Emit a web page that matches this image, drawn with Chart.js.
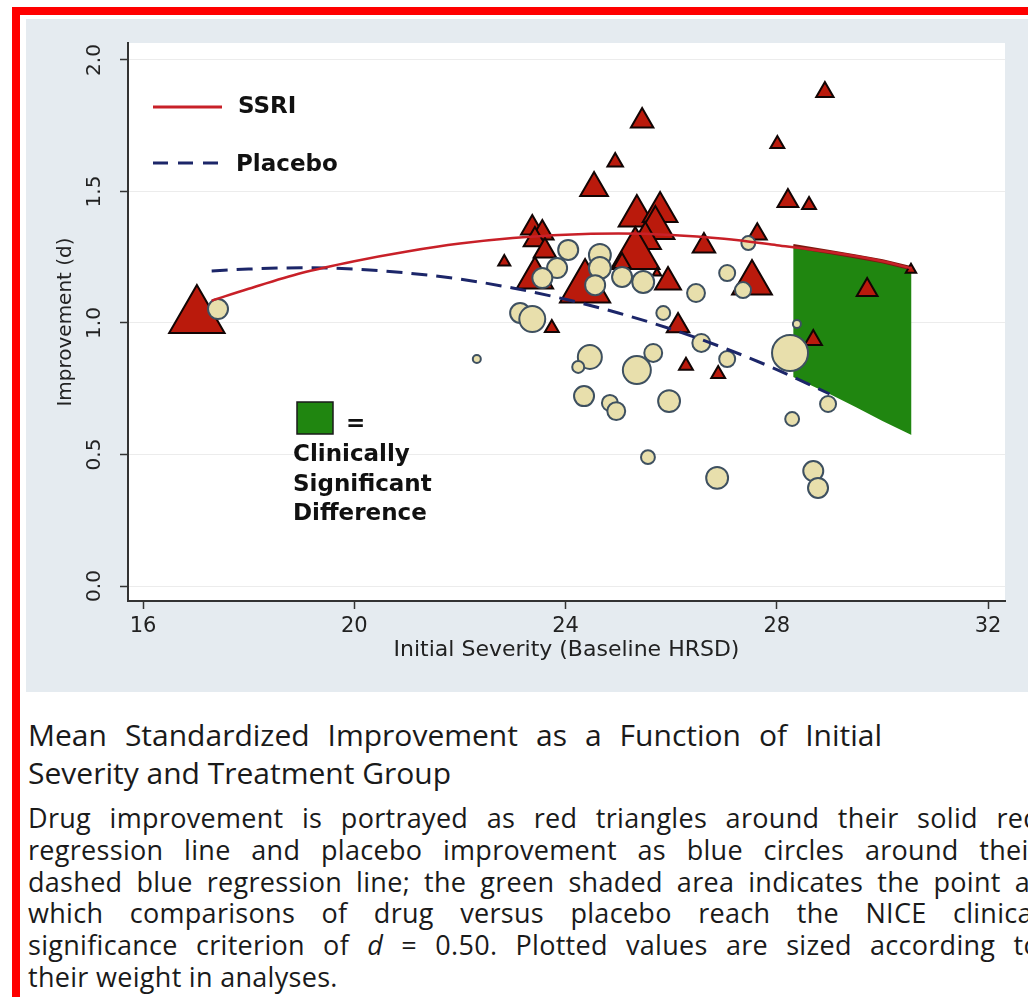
<!DOCTYPE html>
<html>
<head>
<meta charset="utf-8">
<title>Mean Standardized Improvement as a Function of Initial Severity</title>
<script src="https://cdn.jsdelivr.net/npm/chart.js@4.4.1/dist/chart.umd.min.js"></script>
<style>
  html, body { margin: 0; padding: 0; background: #fff; }
  body { width: 1028px; height: 997px; overflow: hidden; position: relative; }
  #frame { position: absolute; left: 12px; top: 7px; width: 1100px; height: 1100px;
           border-left: 8px solid #ff0000; border-top: 8px solid #ff0000; }
  #panel { position: absolute; left: 26px; top: 19px; width: 1002px; height: 673px; background: #e5ebf0; }
  #panel canvas { position: absolute; left: 0; top: 0; }
  .cap { position: absolute; left: 28px; font-family: "Open Sans", sans-serif; color: #1a1a1a; }
  .title { top: 716px; font-size: 30px; line-height: 38px; }
  .body { top: 802px; font-size: 27px; line-height: 31.8px; letter-spacing: 0.3px; }
  .j { text-align: justify; text-align-last: justify; }
</style>
</head>
<body>
<div id="frame"></div>
<div id="panel"><canvas id="chart" width="1002" height="673"></canvas></div>

<div class="cap title">
  <div class="j" style="width:854px">Mean Standardized Improvement as a Function of Initial</div>
  <div>Severity and Treatment Group</div>
</div>
<div class="cap body">
  <div class="j" style="width:1012px">Drug improvement is portrayed as red triangles around their solid red</div>
  <div class="j" style="width:1012px">regression line and placebo improvement as blue circles around their</div>
  <div class="j" style="width:1012px">dashed blue regression line; the green shaded area indicates the point at</div>
  <div class="j" style="width:1012px">which comparisons of drug versus placebo reach the NICE clinical</div>
  <div class="j" style="width:1012px">significance criterion of <i>d</i> = 0.50. Plotted values are sized according to</div>
  <div>their weight in analyses.</div>
</div>

<script>
// axis ticks
const xTicks = [16, 20, 24, 28, 32];
const yTicks = [0, 0.5, 1, 1.5, 2];

// SSRI (drug) arms: baseline HRSD, improvement d, weight in analysis
const drugX = [17.02, 22.84, 23.37, 23.56, 23.42, 23.61, 23.42, 24.37, 24.54, 24.94, 25.45,
  25.35, 25.79, 25.70, 25.51, 25.32, 25.07, 25.94, 25.73, 26.62, 27.63, 27.53, 28.01,
  28.91, 28.21, 28.61, 29.71, 30.54, 26.13, 23.74, 26.28, 26.89, 28.69];
const drugY = [1.023, 1.232, 1.361, 1.342, 1.316, 1.274, 1.171, 1.133, 1.513, 1.612, 1.768,
  1.407, 1.422, 1.361, 1.316, 1.259, 1.228, 1.156, 1.190, 1.293, 1.338, 1.152, 1.681,
  1.878, 1.464, 1.449, 1.125, 1.202, 0.989, 0.981, 0.837, 0.806, 0.935];
const drugW = [256, 12, 42, 42, 42, 42, 110, 210, 64, 20, 42,
  110, 100, 121, 81, 196, 25, 56, 6, 42, 30, 132, 16,
  25, 36, 16, 36, 9, 42, 16, 16, 16, 25];

// placebo arms
const placeboX = [17.42, 22.32, 24.05, 23.84, 23.56, 24.65, 24.65, 24.56, 25.07, 25.47, 25.85,
  23.14, 23.37, 27.06, 27.46, 27.36, 26.47, 24.46, 24.24, 25.35, 25.66, 24.35, 24.84,
  24.96, 25.96, 25.56, 26.57, 27.06, 28.25, 28.38, 28.97, 28.29, 26.87, 28.69, 28.78];
const placeboY = [1.053, 0.863, 1.278, 1.209, 1.171, 1.259, 1.209, 1.144, 1.175, 1.156, 1.038,
  1.038, 1.015, 1.190, 1.304, 1.125, 1.114, 0.871, 0.833, 0.821, 0.886, 0.722, 0.696,
  0.665, 0.703, 0.490, 0.924, 0.863, 0.886, 0.996, 0.692, 0.635, 0.411, 0.437, 0.373];
const placeboW = [25, 4, 25, 25, 25, 30, 30, 25, 25, 30, 12,
  25, 42, 16, 12, 16, 20, 36, 9, 49, 20, 25, 16,
  20, 30, 12, 20, 16, 81, 4, 16, 12, 30, 25, 25];

// regression lines
const ssriLineX = [17.3, 18, 19, 20, 21, 22, 23, 24, 25, 26, 27, 28, 29, 30, 30.55];
const ssriLineY = [1.085, 1.13, 1.19, 1.235, 1.272, 1.302, 1.323, 1.336, 1.340, 1.335, 1.320, 1.296, 1.27, 1.235, 1.208];
const placeboLineX = [17.3, 18, 19, 20, 21, 22, 23, 24, 25, 26, 27, 28, 29];
const placeboLineY = [1.198, 1.205, 1.21, 1.205, 1.19, 1.167, 1.133, 1.09, 1.038, 0.977, 0.905, 0.823, 0.73];

// NICE clinically significant region (d >= 0.50)
const niceX = [28.31, 29, 29.5, 30, 30.55];
const niceTop = [1.293, 1.27, 1.253, 1.235, 1.208];
const niceBottom = [0.795, 0.73, 0.68, 0.627, 0.574];

const font = '"DejaVu Sans", sans-serif';
const ssriRed = 'rgb(200, 32, 40)';
const navy = 'rgb(28, 38, 105)';
const green = 'rgb(32, 134, 16)';

function pts(xs, ys) {
  return xs.map((x, i) => ({ x: x, y: ys[i] }));
}
function bubbles(xs, ys, ws) {
  return xs.map((x, i) => ({ x: x, y: ys[i], r: Math.sqrt(ws[i]) * 2 }));
}

// white plot region, in-plot legend and the green key
const decor = {
  id: 'decor',
  beforeDraw(chart) {
    const { ctx, chartArea: a } = chart;
    ctx.save();
    ctx.fillStyle = '#ffffff';
    ctx.fillRect(a.left, a.top, a.right - a.left, a.bottom - a.top);
    ctx.restore();
  },
  afterDraw(chart) {
    const ctx = chart.ctx;
    ctx.save();
    ctx.lineWidth = 3;
    ctx.strokeStyle = ssriRed;
    ctx.beginPath(); ctx.moveTo(127, 88); ctx.lineTo(196, 88); ctx.stroke();
    ctx.strokeStyle = navy;
    ctx.setLineDash([15, 10]);
    ctx.beginPath(); ctx.moveTo(127, 144); ctx.lineTo(196, 144); ctx.stroke();
    ctx.setLineDash([]);

    ctx.fillStyle = '#111';
    ctx.font = 'bold 23px ' + font;
    ctx.textBaseline = 'alphabetic';
    ctx.fillText('SSRI', 212, 94);
    ctx.fillText('Placebo', 210, 152);

    ctx.fillStyle = green;
    ctx.fillRect(271, 383, 36, 32);
    ctx.strokeStyle = '#1a1a1a';
    ctx.lineWidth = 1.5;
    ctx.strokeRect(271, 383, 36, 32);
    ctx.fillStyle = '#111';
    ctx.fillText('=', 320, 411);
    ctx.fillText('Clinically', 267, 442);
    ctx.fillText('Significant', 267, 472);
    ctx.fillText('Difference', 267, 501);
    ctx.restore();
  }
};

new Chart(document.getElementById('chart'), {
  type: 'bubble',
  data: {
    datasets: [
      {
        type: 'line', label: 'NICE top', data: pts(niceX, niceTop),
        borderColor: 'rgb(125, 25, 15)', borderWidth: 4, pointRadius: 0,
        backgroundColor: green, fill: 1, order: 5
      },
      {
        type: 'line', label: 'NICE bottom', data: pts(niceX, niceBottom),
        borderColor: 'rgba(0,0,0,0)', pointRadius: 0, fill: false, order: 5
      },
      {
        label: 'SSRI arms', data: bubbles(drugX, drugY, drugW), pointStyle: 'triangle',
        backgroundColor: 'rgb(186, 26, 12)', borderColor: '#120504', borderWidth: 2, order: 4
      },
      {
        label: 'Placebo arms', data: bubbles(placeboX, placeboY, placeboW), pointStyle: 'circle',
        backgroundColor: 'rgb(232, 223, 172)', borderColor: 'rgb(62, 80, 96)', borderWidth: 2, order: 3
      },
      {
        type: 'line', label: 'Placebo', data: pts(placeboLineX, placeboLineY),
        borderColor: navy, borderWidth: 3, borderDash: [16, 9], pointRadius: 0,
        fill: false, cubicInterpolationMode: 'monotone', order: 2
      },
      {
        type: 'line', label: 'SSRI', data: pts(ssriLineX, ssriLineY),
        borderColor: ssriRed, borderWidth: 2.5, pointRadius: 0,
        fill: false, cubicInterpolationMode: 'monotone', order: 1
      }
    ]
  },
  options: {
    responsive: false,
    animation: false,
    events: [],
    layout: { autoPadding: false, padding: { left: 0, top: 24, right: 23, bottom: 0 } },
    plugins: { legend: { display: false }, tooltip: { enabled: false } },
    scales: {
      x: {
        type: 'linear', min: 15.716, max: 32.32,
        afterBuildTicks: s => { s.ticks = xTicks.map(v => ({ value: v })); },
        afterFit: s => { s.height = 91; s.paddingLeft = 0; s.paddingRight = 0; },
        grid: { drawOnChartArea: false, tickLength: 8, tickWidth: 1.5, tickColor: '#333' },
        border: { color: '#333', width: 2 },
        ticks: { font: { family: font, size: 21 }, color: '#222', padding: 5, maxRotation: 0, autoSkip: false },
        title: {
          display: true, text: 'Initial Severity (Baseline HRSD)', color: '#222',
          font: { family: font, size: 22 }, padding: { top: 0, bottom: 29 }
        }
      },
      y: {
        type: 'linear', min: -0.057, max: 2.0646,
        afterBuildTicks: s => { s.ticks = yTicks.map(v => ({ value: v })); },
        afterFit: s => { s.width = 102; s.paddingTop = 0; s.paddingBottom = 0; },
        grid: { color: '#ececec', lineWidth: 1, tickLength: 8, tickWidth: 1.5, tickColor: '#333' },
        border: { color: '#333', width: 2 },
        ticks: {
          font: { family: font, size: 20 }, color: '#222', autoSkip: false,
          minRotation: 90, maxRotation: 90, crossAlign: 'center', padding: 9,
          callback: v => v.toFixed(1)
        },
        title: {
          display: true, text: 'Improvement (d)', color: '#222',
          font: { family: font, size: 20 }, padding: { top: 28, bottom: 0 }
        }
      }
    }
  },
  plugins: [decor]
});
</script>
</body>
</html>
